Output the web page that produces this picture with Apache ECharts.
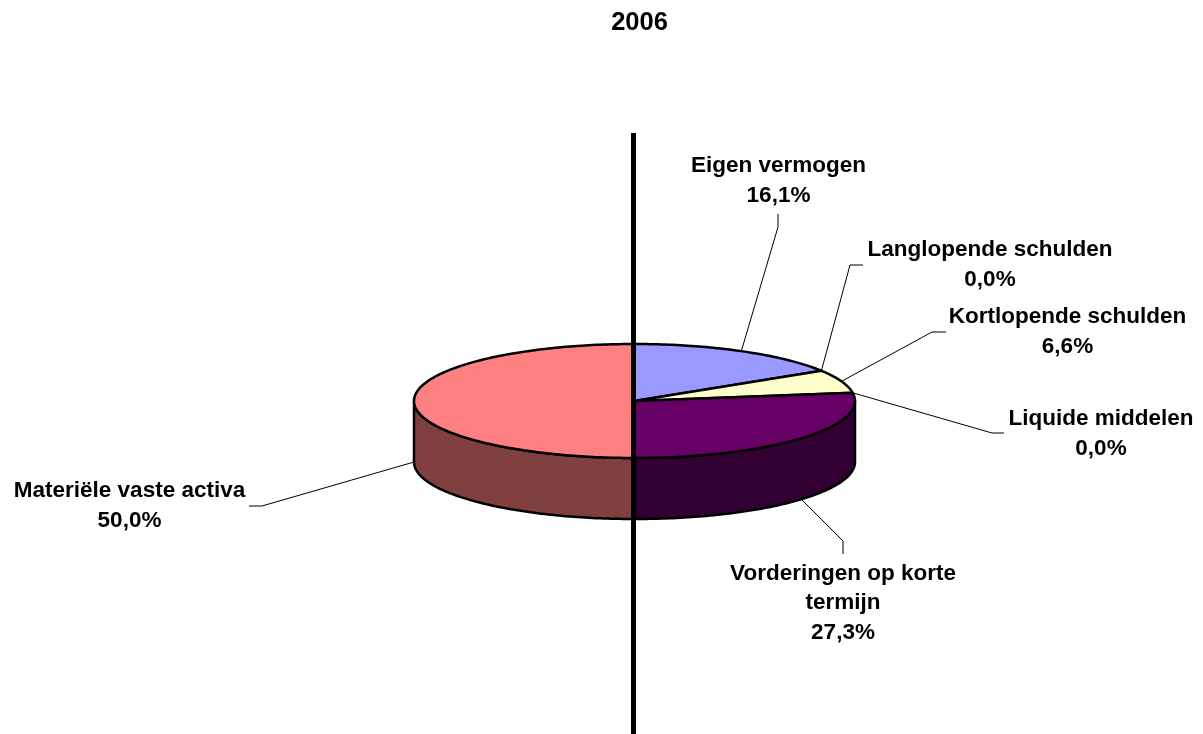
<!DOCTYPE html>
<html>
<head>
<meta charset="utf-8">
<title>2006</title>
<style>
  html, body { margin: 0; padding: 0; background: #fff; }
  #chart { width: 1203px; height: 734px; }
</style>
<script src="https://cdn.jsdelivr.net/npm/echarts@6/dist/echarts.min.js"></script>
</head>
<body>
<div id="chart"></div>
<script>
  // waarden, met de klok mee vanaf de verticale as
  const names = ['Eigen vermogen', 'Langlopende schulden', 'Kortlopende schulden', 'Liquide middelen', 'Vorderingen op korte\ntermijn', 'Materiële vaste activa'];
  const values = [16.1, 0.0, 6.6, 0.0, 27.3, 50.0];
  const topColors = ['#9999FF', '#993366', '#FFFFCC', '#CCFFFF', '#660066', '#FF8080'];
  const sideColors = ['#4D4D80', '#4D1A33', '#808066', '#668080', '#330033', '#804040'];

  // pie geometry
  const cx = 634.5, cy = 401, rx = 220.5, ry = 57, depth = 61;
  const font = 'Liberation Sans, Arial, sans-serif';

  // leader line: elbow + end, then label centre
  const leaderPts = [
    [[778, 227], [778, 214]],
    [[850, 265], [863, 265]],
    [[932, 332], [946, 332]],
    [[992, 433], [1004, 433]],
    [[843, 541], [843, 554]],
    [[262, 506], [249, 506]]
  ];
  const labelPos = [[778.5, 181], [990, 265], [1067.5, 332], [1101, 434], [843, 603], [129.5, 506]];

  let sum = 0;
  const sliceData = values.map(function (v, i) {
    const row = [i, sum, sum + v];
    sum += v;
    return row;
  });

  // percent -> point on the ellipse, clockwise from the top
  function pt(pct, dy) {
    const a = pct / 100 * Math.PI * 2;
    return [cx + rx * Math.sin(a), cy - ry * Math.cos(a) + (dy || 0)];
  }

  function arc(from, to, dy) {
    const pts = [];
    const n = Math.max(2, Math.ceil((to - from) * 3.6));
    for (let k = 0; k <= n; k++) pts.push(pt(from + (to - from) * k / n, dy));
    return pts;
  }

  const edge = { stroke: '#000', lineWidth: 2.5, lineJoin: 'round' };

  function renderSide(params, api) {
    // only the front half of the rim shows
    const from = Math.max(api.value(1), 25), to = Math.min(api.value(2), 75);
    if (to <= from) return null;
    const pts = arc(from, to, 0).concat(arc(from, to, depth).reverse());
    return { type: 'polygon', shape: { points: pts }, style: Object.assign({ fill: sideColors[api.value(0)] }, edge) };
  }

  function renderTop(params, api) {
    const from = api.value(1), to = api.value(2);
    if (to <= from) return null;
    const pts = [[cx, cy]].concat(arc(from, to, 0));
    return { type: 'polygon', shape: { points: pts }, style: Object.assign({ fill: topColors[api.value(0)] }, edge) };
  }

  function renderLabel(params, api) {
    const i = api.value(0);
    const mid = (api.value(1) + api.value(2)) / 2;
    const front = mid > 25 && mid < 75.01;
    const start = pt(mid, front ? depth : 0);
    const pos = labelPos[i];
    return {
      type: 'group',
      children: [
        {
          type: 'polyline',
          shape: { points: [start].concat(leaderPts[i]) },
          style: { stroke: '#000', lineWidth: 1, fill: null }
        },
        {
          type: 'text',
          style: {
            text: names[i] + '\n' + values[i].toFixed(1).replace('.', ',') + '%',
            x: pos[0], y: pos[1],
            align: 'center', verticalAlign: 'middle',
            fill: '#000', fontFamily: font, fontWeight: 'bold', fontSize: 22.5, lineHeight: 29.7
          }
        }
      ]
    };
  }

  const myChart = echarts.init(document.getElementById('chart'), null, { renderer: 'canvas' });
  myChart.setOption({
    animation: false,
    title: {
      text: '2006',
      left: 639.5,
      top: 10,
      padding: 0,
      textAlign: 'center',
      textStyle: { fontFamily: font, fontWeight: 'bold', fontSize: 25.5, color: '#000' }
    },
    series: [
      { type: 'custom', coordinateSystem: 'none', silent: true, z: 1, data: sliceData, renderItem: renderLabel },
      { type: 'custom', coordinateSystem: 'none', silent: true, z: 2, data: sliceData, renderItem: renderSide },
      { type: 'custom', coordinateSystem: 'none', silent: true, z: 3, data: sliceData, renderItem: renderTop }
    ],
    graphic: [{
      type: 'rect',
      z: 10,
      silent: true,
      shape: { x: 631, y: 133, width: 5, height: 601 },
      style: { fill: '#000' }
    }]
  });
</script>
</body>
</html>
